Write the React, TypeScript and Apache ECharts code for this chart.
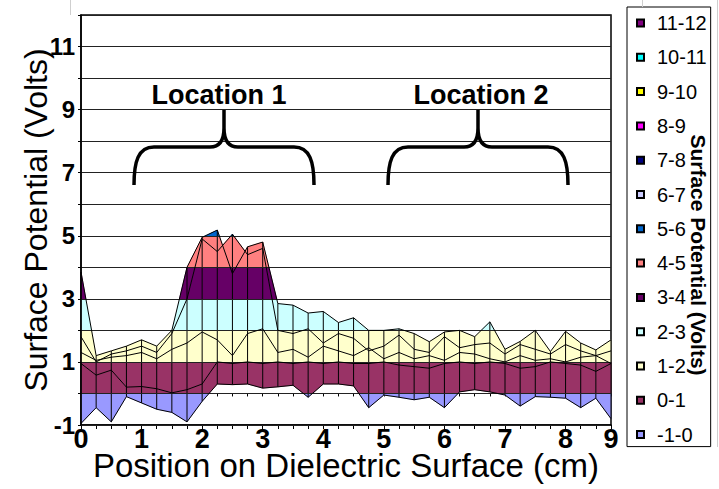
import { useEffect, useRef } from 'react';
import * as echarts from 'echarts';

// Position categories along the dielectric surface (cm)
const positions = ['0','0.25','0.5','0.75','1','1.25','1.5','1.75','2','2.25','2.5','2.75','3','3.25','3.5','3.75','4','4.25','4.5','4.75','5','5.25','5.5','5.75','6','6.25','6.5','6.75','7','7.25','7.5','7.75','8','8.25','8.5','9'];
const xTickLabels = ['0','1','2','3','4','5','6','7','8','9'];
const yTickLabels = ['-1','1','3','5','7','9','11'];

// Surface potential (V), one row per scan line of the surface
const row1 = [-0.95,-0.45,-0.9,-0.1,-0.3,-0.5,-0.6,-0.9,-0.25,0.3,0.28,0.3,0.17,0.21,0.26,-0.12,0.3,0.3,0.24,-0.45,-0.05,-0.12,-0.2,-0.12,-0.45,0.05,0.12,0.05,-0.05,-0.4,-0.1,-0.12,-0.15,-0.45,-0.15,-0.8];
const row2 = [0.95,0.58,0.74,0.2,0.22,0.15,0.02,0.12,0.3,1.0,0.95,1.0,0.95,1.0,0.95,1.0,0.95,1.0,0.95,0.95,1.0,0.9,0.85,0.8,0.95,1.0,0.95,1.0,0.95,0.8,0.85,1.0,0.95,0.9,0.7,0.95];
const row3 = [1.3,1.05,1.15,1.2,1.3,1.1,1.4,1.6,1.95,1.7,1.2,1.9,2.05,1.3,1.4,1.15,1.5,1.35,1.2,1.45,1.1,1.3,1.1,1.2,1.05,1.3,1.25,1.1,1.0,1.2,1.05,1.1,1.0,1.15,1.2,0.95];
const row4 = [1.8,1.0,1.25,1.35,1.5,1.3,1.9,3.0,4.9,4.5,5.05,4.4,4.6,2.0,1.9,2.05,1.6,1.9,1.75,1.35,1.5,1.85,1.4,1.3,1.8,1.45,1.55,1.6,1.25,1.55,1.4,1.25,1.55,1.35,1.2,1.35];
const row5 = [3.85,1.2,1.35,1.5,1.7,1.5,2.0,4.0,4.95,5.18,3.8,4.65,4.8,2.85,2.8,2.55,2.6,2.25,2.4,2.0,2.0,2.05,1.9,1.64,1.95,2.0,1.8,2.27,1.4,1.65,2.0,1.33,1.97,1.6,1.38,1.7];

// Value bands (legend, top to bottom)
const bandNames = ['11-12','10-11','9-10','8-9','7-8','6-7','5-6','4-5','3-4','2-3','1-2','0-1','-1-0'];
const bandLows = [11,10,9,8,7,6,5,4,3,2,1,0,-1];
const bandColors = ['#800080','#00FFFF','#FFFF00','#FF00FF','#000080','#CCCCFF','#0066CC','#FF8080','#660066','#CCFFFF','#FFFFCC','#993366','#9999FF'];

const FONT = '"Liberation Sans", Arial, Helvetica, sans-serif';
const Y_MIN = -1;
const Y_MAX = 12;

const rows = [row1, row2, row3, row4, row5];

const braceD = 'M-90 75 C-90 52 -86 37 -70 37 L-14 37 C-4 37 0 30 0 18 L0 0 M0 18 C0 30 4 37 14 37 L70 37 C86 37 90 52 90 75';

let registered = false;

export default function App() {
  const ref = useRef<HTMLDivElement>(null);

  useEffect(() => {
    if (!ref.current) return;
    if (!registered) {
      echarts.graphic.registerShape('brace', (echarts.graphic as any).extendPath(braceD, {}));
      registered = true;
    }
    const chart = echarts.init(ref.current, undefined, { renderer: 'svg' });

    const span = Y_MAX - Y_MIN;
    const stops: { offset: number; color: string }[] = [];
    bandLows.forEach((lo, i) => {
      const start = (Y_MAX - (lo + 1)) / span;
      const end = (Y_MAX - lo) / span;
      stops.push({ offset: start, color: bandColors[i] });
      stops.push({ offset: end, color: bandColors[i] });
    });

    const n = positions.length;

    const renderItem = (params: any, api: any) => {
      const i = api.value(0) as number;
      const top = api.coord([0, Y_MAX])[1];
      const bot = api.coord([0, Y_MIN])[1];
      const grad = new echarts.graphic.LinearGradient(0, top, 0, bot, stops, true);
      const children: any[] = [];
      if (i < n - 1) {
        for (let r = 0; r < rows.length - 1; r++) {
          const a = rows[r];
          const b = rows[r + 1];
          children.push({
            type: 'polygon',
            shape: {
              points: [
                api.coord([i, a[i]]),
                api.coord([i + 1, a[i + 1]]),
                api.coord([i + 1, b[i + 1]]),
                api.coord([i, b[i]]),
              ],
            },
            style: { fill: grad, stroke: grad, lineWidth: 0.6 },
          });
        }
      }
      const vals = rows.map((r) => r[i]);
      const p1 = api.coord([i, Math.min(...vals)]);
      const p2 = api.coord([i, Math.max(...vals)]);
      children.push({
        type: 'line',
        z2: 10,
        shape: { x1: p1[0], y1: p1[1], x2: p2[0], y2: p2[1] },
        style: { stroke: '#000', lineWidth: 1 },
      });
      return { type: 'group', children };
    };

    const lineSeries = rows.map((r, idx) => ({
      type: 'line',
      name: 'row' + (idx + 1),
      data: r,
      xAxisIndex: 0,
      showSymbol: false,
      symbol: 'none',
      silent: true,
      z: 4,
      lineStyle: { color: '#000', width: 1 },
      itemStyle: { color: '#000' },
    }));

    const legendSeries = bandNames.map((name, i) => ({
      type: 'bar',
      name,
      data: [],
      xAxisIndex: 0,
      itemStyle: { color: bandColors[i], borderColor: '#000', borderWidth: 1 },
    }));

    chart.setOption({
      animation: false,
      backgroundColor: '#fff',
      textStyle: { fontFamily: FONT },
      grid: {
        left: 81, top: 15, width: 530, height: 410,
        show: true, borderColor: '#000', borderWidth: 1.5,
        outerBoundsMode: 'none',
      },
      legend: {
        orient: 'vertical',
        left: 627,
        top: 7,
        padding: [6, 4, 2, 9],
        itemWidth: 7,
        itemHeight: 7,
        itemGap: 14.3,
        icon: 'rect',
        borderColor: '#000',
        borderWidth: 1,
        backgroundColor: '#fff',
        selectedMode: false,
        textStyle: { fontSize: 20, fontFamily: FONT, color: '#000', lineHeight: 20, padding: [0, 0, 0, 8] },
        data: bandNames,
      },
      xAxis: [
        {
          type: 'category',
          data: positions,
          boundaryGap: false,
          position: 'bottom',
          axisLine: { onZero: false, lineStyle: { color: '#000', width: 1.5 } },
          axisTick: { show: true, interval: 0, length: 4, lineStyle: { color: '#000' } },
          axisLabel: {
            interval: (_idx: number, val: string) => xTickLabels.includes(val),
            fontSize: 27, fontWeight: 'bold', color: '#000', margin: 3, lineHeight: 22, fontFamily: FONT,
          },
          splitLine: { show: false },
          name: 'Position on Dielectric Surface (cm)',
          nameLocation: 'middle',
          nameGap: 27,
          nameMoveOverlap: false,
          nameTextStyle: { fontSize: 33, lineHeight: 26, color: '#000', verticalAlign: 'top', fontFamily: FONT },
        },
        {
          type: 'category',
          data: positions,
          boundaryGap: false,
          position: 'bottom',
          axisLine: { onZero: true, lineStyle: { color: '#000', width: 1 } },
          axisTick: { show: true, interval: 0, length: 3, lineStyle: { color: '#000' } },
          axisLabel: { show: false },
          splitLine: { show: false },
        },
      ],
      yAxis: {
        type: 'value',
        min: Y_MIN,
        max: Y_MAX,
        interval: 1,
        z: 3,
        axisLine: { show: true, onZero: false, lineStyle: { color: '#000', width: 1.5 } },
        axisTick: { show: true, length: 3, lineStyle: { color: '#000' } },
        axisLabel: {
          formatter: (v: number) => (yTickLabels.includes(String(v)) ? String(v) : ''),
          fontSize: 24, fontWeight: 'bold', color: '#000', margin: 6, fontFamily: FONT,
        },
        splitLine: { show: true, lineStyle: { color: '#222', width: 1 } },
        name: 'Surface Potential (Volts)',
        nameLocation: 'middle',
        nameGap: 29,
        nameRotate: 90,
        nameMoveOverlap: false,
        nameTextStyle: { fontSize: 32, color: '#000', fontFamily: FONT },
      },
      series: [
        {
          type: 'custom',
          xAxisIndex: 0,
          silent: true,
          z: 2,
          renderItem,
          encode: { x: 0, y: [1, 2] },
          data: positions.map((_, i) => [i, Math.min(...rows.map((r) => r[i])), Math.max(...rows.map((r) => r[i]))]),
        },
        ...lineSeries,
        ...legendSeries,
      ],
      graphic: [
        { type: 'text', z: 10, x: 219, y: 95, style: { text: 'Location 1', fontSize: 27, fontWeight: 'bold', fontFamily: FONT, fill: '#000', align: 'center', verticalAlign: 'middle', textAlign: 'center', textVerticalAlign: 'middle' } },
        { type: 'text', z: 10, x: 481, y: 95, style: { text: 'Location 2', fontSize: 27, fontWeight: 'bold', fontFamily: FONT, fill: '#000', align: 'center', verticalAlign: 'middle', textAlign: 'center', textVerticalAlign: 'middle' } },
        { type: 'brace', z: 10, x: 224, y: 110, style: { stroke: '#000', lineWidth: 3.5, fill: 'none' } },
        { type: 'brace', z: 10, x: 478, y: 110, style: { stroke: '#000', lineWidth: 3.5, fill: 'none' } },
        { type: 'text', z: 10, x: 698, y: 255, rotation: -Math.PI / 2, style: { text: 'Surface Potential (Volts)', fontSize: 21, fontWeight: 'bold', fontFamily: FONT, fill: '#000', align: 'center', verticalAlign: 'middle', textAlign: 'center', textVerticalAlign: 'middle' } },
        { type: 'line', z: 10, shape: { x1: 717.5, y1: 0, x2: 717.5, y2: 447 }, style: { stroke: '#cfcfcf', lineWidth: 1 } },
        { type: 'line', z: 10, shape: { x1: 70.5, y1: 0, x2: 70.5, y2: 15 }, style: { stroke: '#cfcfcf', lineWidth: 1 } },
        { type: 'line', z: 10, shape: { x1: 642.5, y1: 0, x2: 642.5, y2: 7 }, style: { stroke: '#cfcfcf', lineWidth: 1 } },
      ],
    } as any);

    return () => chart.dispose();
  }, []);

  return (
    <div
      ref={ref}
      style={{ position: 'absolute', left: 0, top: 0, width: 719, height: 489, background: '#fff' }}
    />
  );
}
